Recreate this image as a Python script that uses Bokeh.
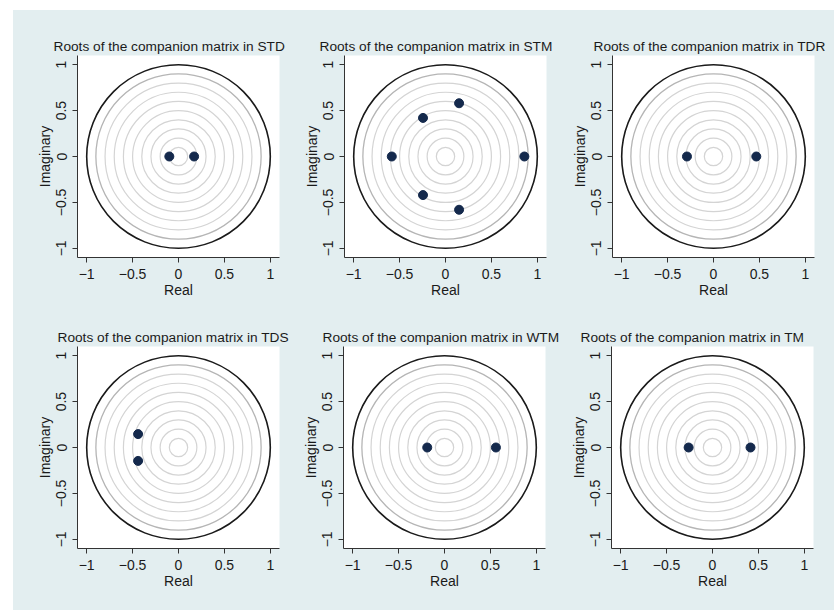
from bokeh.plotting import figure
from bokeh.layouts import column, row, Spacer
from bokeh.embed import file_html
from bokeh.resources import INLINE

# ---- data ----
regions = ["STD", "STM", "TDR", "TDS", "WTM", "TM"]
std_real = [-0.10, 0.17]
std_imag = [0.0, 0.0]
stm_real = [-0.585, -0.245, -0.245, 0.148, 0.148, 0.859]
stm_imag = [0.0, 0.42, -0.42, 0.58, -0.58, 0.0]
tdr_real = [-0.289, 0.466]
tdr_imag = [0.0, 0.0]
tds_real = [-0.44, -0.44]
tds_imag = [0.146, -0.146]
wtm_real = [-0.188, 0.56]
wtm_imag = [0.0, 0.0]
tm_real = [-0.26, 0.414]
tm_imag = [0.0, 0.0]

ticks = [-1, -0.5, 0, 0.5, 1]
tick_labels = ["\u22121", "\u22120.5", "0", "0.5", "1"]
grey_radii = [0.1, 0.2, 0.3, 0.4, 0.5, 0.6, 0.7, 0.8]
outer_grey_radius = [0.9]
unit_radius = [1.0]

roots = {
    "STD": (std_real, std_imag),
    "STM": (stm_real, stm_imag),
    "TDR": (tdr_real, tdr_imag),
    "TDS": (tds_real, tds_imag),
    "WTM": (wtm_real, wtm_imag),
    "TM": (tm_real, tm_imag),
}

BG = "#e3eef0"
NAVY = "#14294c"
FONT = "Liberation Sans"

# layout: (width, height, left, right, top, bottom, title_offset)
geom = {
    "STD": (275, 292, 64, 9, 45, 45, -24),
    "STM": (268, 292, 56, 10, 45, 45, -25),
    "TDR": (278, 292, 56, 20, 45, 45, -19),
    "TDS": (277, 308, 64, 11, 44, 62, -20),
    "WTM": (275, 308, 53, 20, 44, 62, -21),
    "TM": (269, 308, 46, 21, 44, 62, -31),
}


def make(name):
    w, h, l, r, t, b, toff = geom[name]
    p = figure(width=w, height=h, x_range=(-1.1, 1.1), y_range=(-1.1, 1.1),
               output_backend="svg", toolbar_location=None,
               min_border_left=l, min_border_right=r,
               min_border_top=t, min_border_bottom=b,
               background_fill_color="white", border_fill_color=BG,
               outline_line_color=None)
    p.title.text = "Roots of the companion matrix in " + name
    p.title.align = "left"
    p.title.offset = toff
    p.title.text_font = FONT
    p.title.text_font_size = "13.7px"
    p.title.text_font_style = "normal"
    p.title.text_color = "#1a1a1a"
    p.title.standoff = 3
    p.grid.visible = False

    n = len(grey_radii)
    p.circle(x=[0] * n, y=[0] * n, radius=grey_radii, fill_color=None,
             line_color="#d4d4d4", line_width=1.2)
    p.circle(x=[0], y=[0], radius=outer_grey_radius, fill_color=None,
             line_color="#b5b5b5", line_width=1.3)
    p.circle(x=[0], y=[0], radius=unit_radius, fill_color=None,
             line_color="#1a1a1a", line_width=1.6)

    xs, ys = roots[name]
    p.scatter(xs, ys, size=9, color=NAVY)

    for ax in (p.xaxis[0], p.yaxis[0]):
        ax.ticker = ticks
        ax.major_label_overrides = {tk: lb for tk, lb in zip(ticks, tick_labels)}
        ax.minor_tick_line_color = None
        ax.major_tick_in = 0
        ax.major_tick_out = 5
        ax.axis_line_color = "#333333"
        ax.major_tick_line_color = "#333333"
        ax.major_label_text_font = FONT
        ax.major_label_text_font_size = "14px"
        ax.major_label_text_color = "#1a1a1a"
        ax.axis_label_text_font = FONT
        ax.axis_label_text_font_size = "14px"
        ax.axis_label_text_font_style = "normal"
        ax.axis_label_text_color = "#1a1a1a"
    p.xaxis.axis_label = "Real"
    p.yaxis.axis_label = "Imaginary"
    p.yaxis.major_label_orientation = "vertical"
    p.xaxis.major_label_standoff = 6
    p.xaxis.axis_label_standoff = 0
    p.yaxis.major_label_standoff = 6
    p.yaxis.axis_label_standoff = 1
    return p


figs = [make(n) for n in regions]
grid = column(row(figs[0], figs[1], figs[2], styles={"background-color": BG}),
              row(figs[3], figs[4], figs[5], styles={"background-color": BG}),
              styles={"background-color": BG})
layout = row(Spacer(width=13),
             column(Spacer(height=10), grid))

open("out.html", "w").write(file_html(layout, INLINE))
